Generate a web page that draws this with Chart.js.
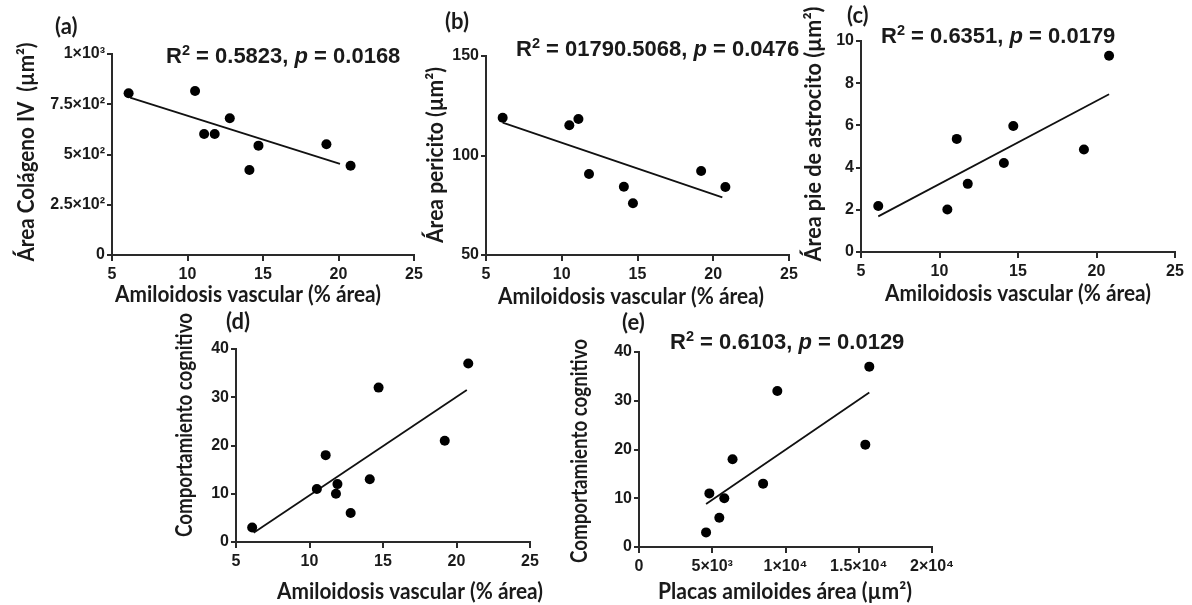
<!DOCTYPE html>
<html><head><meta charset="utf-8">
<script src="https://cdn.jsdelivr.net/npm/chart.js@4/dist/chart.umd.min.js"></script>
<style>
html,body{margin:0;padding:0;background:#fff;width:1192px;height:605px;overflow:hidden}
body{position:relative}
canvas{position:absolute}
</style></head><body>
<canvas id="ca"></canvas><canvas id="cb"></canvas><canvas id="cc"></canvas><canvas id="cd"></canvas><canvas id="ce"></canvas>
<script>
// ---------------- DATA ----------------
const xVascA = [6.1, 10.5, 11.1, 11.8, 12.8, 14.1, 14.7, 19.2, 20.8];
const colagenoA = [805, 816, 602, 602, 680, 423, 544, 551, 444];
const fitXA = [6.2, 20.1];
const fitYA = [783, 453];

const xVascB = [6.1, 10.5, 11.1, 11.8, 14.1, 14.7, 19.2, 20.8];
const pericitoB = [119, 115.2, 118.3, 90.7, 84.3, 76, 92.2, 84.2];
const fitXB = [6.1, 20.6];
const fitYB = [116.5, 79];

const xVascC = [6.1, 10.5, 11.1, 11.8, 14.1, 14.7, 19.2, 20.8];
const astrocitoC = [2.18, 2.01, 5.36, 3.23, 4.22, 5.97, 4.86, 9.3];
const fitXC = [6.1, 20.8];
const fitYC = [1.69, 7.48];

const xVascD = [6.1, 10.5, 11.1, 11.8, 11.9, 12.8, 14.1, 14.7, 19.2, 20.8];
const cognitivoD = [3, 11, 18, 10, 12, 6, 13, 32, 21, 37];
const fitXD = [6.2, 20.7];
const fitYD = [1.9, 31.5];

const placasE = [4578, 4803, 5482, 5822, 6386, 8471, 9443, 15448, 15720];
const cognitivoE = [3, 11, 6, 10, 18, 13, 32, 21, 37];
const fitXE = [4578, 15720];
const fitYE = [8.8, 31.7];

const yTickValuesA = [0, 250, 500, 750, 1000];
const yTickLabelsA = ['0', '2.5×10²', '5×10²', '7.5×10²', '1×10³'];
const xTickValuesE = [0, 5000, 10000, 15000, 20000];
const xTickLabelsE = ['0', '5×10³', '1×10⁴', '1.5×10⁴', '2×10⁴'];

const statsA = ['0.5823', '0.0168'];
const statsB = ['01790.5068', '0.0476'];
const statsC = ['0.6351', '0.0179'];
const statsE = ['0.6103', '0.0129'];

const xTitleVasc = 'Amiloidosis vascular (% área)';
const xTitleE = 'Placas amiloides área (µm²)';
const yTitleA = 'Área Colágeno IV  (µm²)';
const yTitleB = 'Área pericito (µm²)';
const yTitleC = 'Área pie de astrocito (µm²)';
const yTitleDE = 'Comportamiento cognitivo';

// ---------------- LAYOUT ----------------
const TICK_FONT = {family: "'Liberation Sans', Arial, sans-serif", size: 16, weight: 'bold'};
const TITLE_FAMILY = "Lato, 'Open Sans', sans-serif";
const STAT_FAMILY = "'Liberation Sans', Arial, sans-serif";
const INK = '#1a1a1a';

function richStat(ctx, x, baseline, r2, p, size) {
  const segs = [
    {t: 'R'}, {t: '2', sup: true}, {t: ' = ' + r2 + ', '}, {t: 'p', it: true}, {t: ' = ' + p}
  ];
  let cx = x;
  ctx.textAlign = 'left';
  ctx.textBaseline = 'alphabetic';
  ctx.fillStyle = INK;
  for (const s of segs) {
    const fs = s.sup ? size * 0.66 : size;
    ctx.font = (s.it ? 'italic ' : '') + 'bold ' + fs + 'px ' + STAT_FAMILY;
    ctx.fillText(s.t, cx, s.sup ? baseline - size * 0.38 : baseline);
    cx += ctx.measureText(s.t).width;
  }
}

// draws a title at a given size, compressed horizontally to the target width
function fitText(ctx, text, cx, cy, width, rotate, size) {
  ctx.font = 'bold ' + size + 'px ' + TITLE_FAMILY;
  const w = ctx.measureText(text).width;
  const sx = Math.min(1, width / w);
  ctx.save();
  ctx.translate(cx, cy);
  if (rotate) ctx.rotate(-Math.PI / 2);
  ctx.scale(sx, 1);
  ctx.textAlign = 'center';
  ctx.textBaseline = 'middle';
  ctx.fillStyle = INK;
  ctx.fillText(text, 0, 0);
  ctx.restore();
}

const textPlugin = {
  id: 'panelText',
  afterDraw(chart) {
    const p = chart.config.options.plugins.panelText;
    const ctx = chart.ctx;
    ctx.save();
    ctx.translate(-p.x, -p.y);
    ctx.font = 'bold 22px ' + TITLE_FAMILY;
    ctx.fillStyle = INK;
    ctx.textAlign = 'left';
    ctx.textBaseline = 'middle';
    ctx.fillText(p.letter, p.letterPos[0], p.letterPos[1]);
    if (p.stats) richStat(ctx, p.statPos[0], p.statPos[1], p.stats[0], p.stats[1], 22);
    fitText(ctx, p.xTitle, p.xTitlePos[0], p.xTitlePos[1], p.xTitlePos[2], false, 22);
    fitText(ctx, p.yTitle, p.yTitlePos[0], p.yTitlePos[1], p.yTitlePos[2], true, 22);
    ctx.restore();
  }
};

function axis(min, max, step, extent, isX, labels, values) {
  return {
    type: 'linear', min: min, max: max,
    afterFit: s => { if (isX) s.height = extent; else s.width = extent; },
    ticks: {
      stepSize: step, autoSkip: false, maxRotation: 0, includeBounds: true,
      font: TICK_FONT, color: INK, padding: isX ? 4 : 2,
      callback: v => labels ? labels[values.indexOf(v)] : String(v)
    },
    grid: {drawOnChartArea: false, drawTicks: true, tickLength: isX ? 6 : 5, color: '#2a2a2a', lineWidth: 2},
    border: {display: true, color: '#2a2a2a', width: 2}
  };
}

function makePanel(p) {
  const cv = document.getElementById(p.id);
  cv.width = p.w; cv.height = p.h;
  cv.style.width = p.w + 'px'; cv.style.height = p.h + 'px';
  cv.style.left = p.x + 'px'; cv.style.top = p.y + 'px';
  const aL = p.area[0] - p.x, aT = p.area[1] - p.y, aR = p.area[2] - p.x, aB = p.area[3] - p.y;
  new Chart(cv, {
    type: 'scatter',
    data: {datasets: [
      {data: p.xs.map((x, i) => ({x: x, y: p.ys[i]})), pointRadius: 5, pointHoverRadius: 5,
       backgroundColor: '#000', borderColor: '#000', pointBorderWidth: 0, order: 0},
      {data: p.fx.map((x, i) => ({x: x, y: p.fy[i]})), showLine: true, pointRadius: 0,
       borderColor: '#111', borderWidth: 1.8, fill: false, order: 1}
    ]},
    options: {
      responsive: false, animation: false, devicePixelRatio: 1,
      layout: {padding: {left: 0, top: aT, right: p.w - aR, bottom: 0}},
      plugins: {legend: {display: false}, tooltip: {enabled: false}, title: {display: false},
                panelText: p},
      scales: {
        x: axis(p.xr[0], p.xr[1], p.xr[2], p.h - aB, true, p.xLabels, p.xValues),
        y: axis(p.yr[0], p.yr[1], p.yr[2], aL, false, p.yLabels, p.yValues)
      }
    },
    plugins: [textPlugin]
  });
}

const panels = [
  {id: 'ca', x: 0, y: 0, w: 440, h: 312, area: [112, 54, 414, 255],
   xs: xVascA, ys: colagenoA, fx: fitXA, fy: fitYA,
   xr: [5, 25, 5], yr: [0, 1000, 250], yLabels: yTickLabelsA, yValues: yTickValuesA,
   letter: '(a)', letterPos: [55, 27], stats: statsA, statPos: [166, 63],
   xTitle: xTitleVasc, xTitlePos: [248, 295, 266], yTitle: yTitleA, yTitlePos: [27, 152, 219]},
  {id: 'cb', x: 415, y: 0, w: 395, h: 312, area: [486, 56, 789, 255],
   xs: xVascB, ys: pericitoB, fx: fitXB, fy: fitYB,
   xr: [5, 25, 5], yr: [50, 150, 50],
   letter: '(b)', letterPos: [445, 22], stats: statsB, statPos: [516, 56],
   xTitle: xTitleVasc, xTitlePos: [631, 297, 266], yTitle: yTitleB, yTitlePos: [436, 155, 176]},
  {id: 'cc', x: 795, y: 0, w: 397, h: 312, area: [861, 41, 1175, 252],
   xs: xVascC, ys: astrocitoC, fx: fitXC, fy: fitYC,
   xr: [5, 25, 5], yr: [0, 10, 2],
   letter: '(c)', letterPos: [847, 16], stats: statsC, statPos: [881, 43],
   xTitle: xTitleVasc, xTitlePos: [1018, 294, 266], yTitle: yTitleC, yTitlePos: [814, 134, 255]},
  {id: 'cd', x: 150, y: 300, w: 430, h: 305, area: [236, 349, 530, 542],
   xs: xVascD, ys: cognitivoD, fx: fitXD, fy: fitYD,
   xr: [5, 25, 5], yr: [0, 40, 10],
   letter: '(d)', letterPos: [226, 322], stats: null,
   xTitle: xTitleVasc, xTitlePos: [410, 592, 266], yTitle: yTitleDE, yTitlePos: [185, 425, 224]},
  {id: 'ce', x: 565, y: 300, w: 435, h: 305, area: [639, 352, 932, 547],
   xs: placasE, ys: cognitivoE, fx: fitXE, fy: fitYE,
   xr: [0, 20000, 5000], yr: [0, 40, 10], xLabels: xTickLabelsE, xValues: xTickValuesE,
   letter: '(e)', letterPos: [622, 323], stats: statsE, statPos: [670, 349],
   xTitle: xTitleE, xTitlePos: [785, 592, 254], yTitle: yTitleDE, yTitlePos: [580, 451, 224]}
];

panels.forEach(makePanel);
</script>
</body></html>
